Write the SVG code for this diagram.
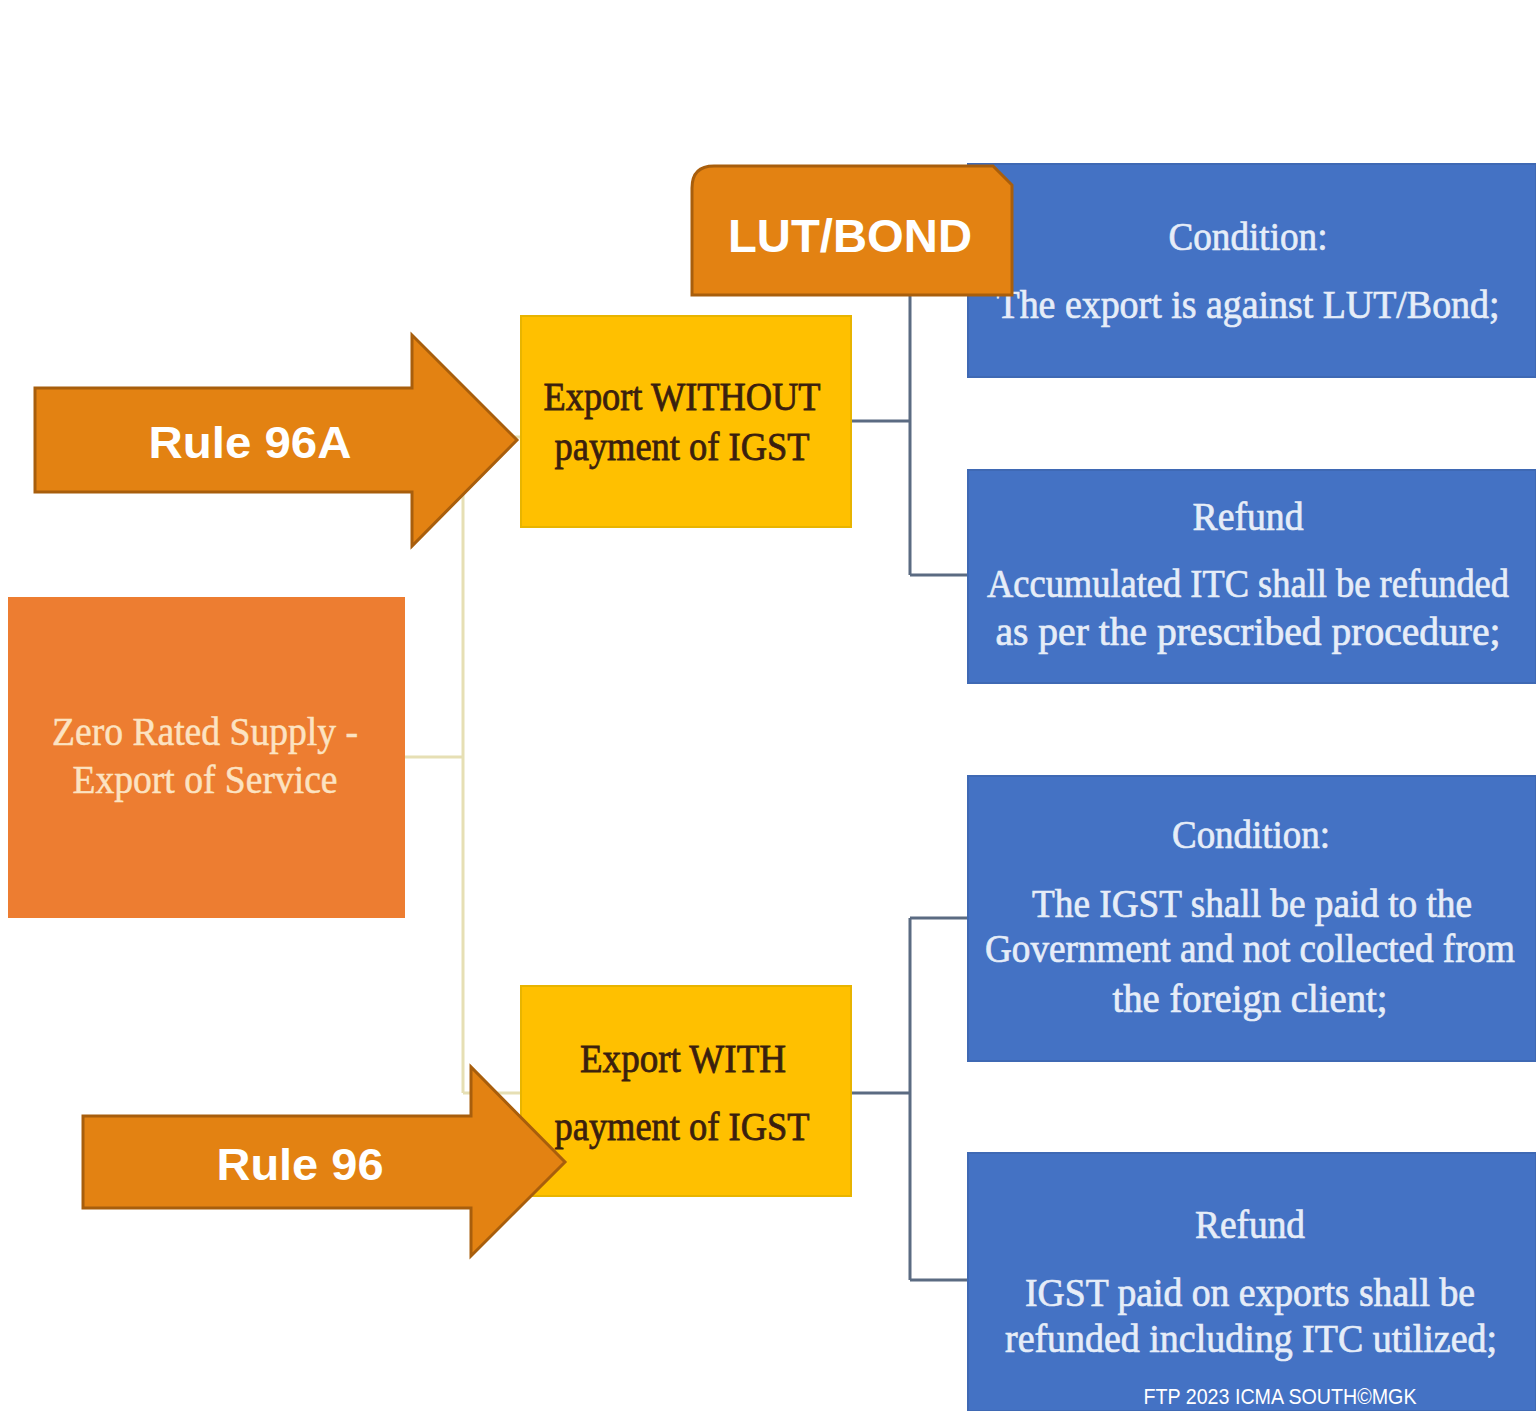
<svg xmlns="http://www.w3.org/2000/svg" width="1536" height="1411" viewBox="0 0 1536 1411">
  <style>
    .serif { font-family: "Liberation Serif", "DejaVu Serif", serif; }
    .sans { font-family: "Liberation Sans", Arial, sans-serif; }
    .blue { fill: #4472C4; stroke: #3F69B4; stroke-width: 2; }
    .blueText { fill: #E6EDF8; stroke: #E6EDF8; stroke-width: 0.7; font-size: 40px; }
    .yellow { fill: #FFC000; stroke: #E8B400; stroke-width: 2; }
    .yellowText { fill: #3B1F0E; stroke: #3B1F0E; stroke-width: 0.8; font-size: 40px; }
    .cream { fill: #FCE3C2; stroke: #FCE3C2; stroke-width: 0.5; font-size: 40px; }
    .arrow { fill: #E38212; stroke: #A85E0C; stroke-width: 3; }
    .bigLabel { fill: #FFFFFF; font-weight: bold; }
    .linkPale { stroke: #E6DFB4; stroke-width: 3; fill: none; }
    .linkDark { stroke: #5B6B82; stroke-width: 3; fill: none; }
  </style>

  <rect width="1536" height="1411" fill="#FFFFFF"/>

  <!-- connectors -->
  <g id="connectors">
    <path class="linkPale" d="M405 757 H463 M463 437 V1093 M463 437 H521 M463 1093 H521"/>
    <path class="linkDark" d="M851 421 H910 M910 270 V575 M910 270 H968 M910 575 H968"/>
    <path class="linkDark" d="M851 1093 H910 M910 918 V1280 M910 918 H968 M910 1280 H968"/>
  </g>

  <!-- root node -->
  <g id="node-zero-rated">
    <rect x="8" y="597" width="397" height="321" fill="#ED7D31"/>
    <text class="serif cream" x="205" y="745" text-anchor="middle" textLength="306" lengthAdjust="spacingAndGlyphs">Zero Rated Supply -</text>
    <text class="serif cream" x="205" y="793" text-anchor="middle" textLength="265" lengthAdjust="spacingAndGlyphs">Export of Service</text>
  </g>

  <!-- branch nodes -->
  <g id="node-without">
    <rect class="yellow" x="521" y="316" width="330" height="211"/>
    <text class="serif yellowText" x="682" y="410" text-anchor="middle" textLength="277" lengthAdjust="spacingAndGlyphs">Export WITHOUT</text>
    <text class="serif yellowText" x="682" y="460" text-anchor="middle" textLength="255" lengthAdjust="spacingAndGlyphs">payment of IGST</text>
  </g>

  <g id="node-with">
    <rect class="yellow" x="521" y="986" width="330" height="210"/>
    <text class="serif yellowText" x="683" y="1072" text-anchor="middle" textLength="206" lengthAdjust="spacingAndGlyphs">Export WITH</text>
    <text class="serif yellowText" x="682" y="1140" text-anchor="middle" textLength="255" lengthAdjust="spacingAndGlyphs">payment of IGST</text>
  </g>

  <!-- detail nodes -->
  <g id="node-condition-lut">
    <rect class="blue" x="968" y="164" width="568" height="213"/>
    <text class="serif blueText" x="1248" y="250" text-anchor="middle" textLength="159" lengthAdjust="spacingAndGlyphs">Condition:</text>
    <text class="serif blueText" x="1248" y="318" font-size="38" text-anchor="middle" textLength="503" lengthAdjust="spacingAndGlyphs">The export is against  LUT/Bond;</text>
  </g>

  <g id="node-refund-itc">
    <rect class="blue" x="968" y="470" width="568" height="213"/>
    <text class="serif blueText" x="1248" y="530" text-anchor="middle" textLength="111" lengthAdjust="spacingAndGlyphs">Refund</text>
    <text class="serif blueText" x="1248" y="597" font-size="34" text-anchor="middle" textLength="522" lengthAdjust="spacingAndGlyphs">Accumulated ITC shall be refunded</text>
    <text class="serif blueText" x="1248" y="645" font-size="38" text-anchor="middle" textLength="505" lengthAdjust="spacingAndGlyphs">as per the prescribed procedure;</text>
  </g>

  <g id="node-condition-igst">
    <rect class="blue" x="968" y="776" width="568" height="285"/>
    <text class="serif blueText" x="1251" y="848" text-anchor="middle" textLength="158" lengthAdjust="spacingAndGlyphs">Condition:</text>
    <text class="serif blueText" x="1252" y="917" text-anchor="middle" textLength="440" lengthAdjust="spacingAndGlyphs">The IGST shall be paid to the</text>
    <text class="serif blueText" x="1250" y="962" font-size="34" text-anchor="middle" textLength="530" lengthAdjust="spacingAndGlyphs">Government and not collected from</text>
    <text class="serif blueText" x="1250" y="1012" text-anchor="middle" textLength="275" lengthAdjust="spacingAndGlyphs">the foreign client;</text>
  </g>

  <g id="node-refund-igst">
    <rect class="blue" x="968" y="1153" width="568" height="258"/>
    <text class="serif blueText" x="1250" y="1238" text-anchor="middle" textLength="110" lengthAdjust="spacingAndGlyphs">Refund</text>
    <text class="serif blueText" x="1250" y="1306" text-anchor="middle" textLength="450" lengthAdjust="spacingAndGlyphs">IGST paid on exports shall be</text>
    <text class="serif blueText" x="1251" y="1352" text-anchor="middle" textLength="492" lengthAdjust="spacingAndGlyphs">refunded including ITC utilized;</text>
    <text class="sans" x="1280" y="1404" font-size="22" fill="#FFFFFF" text-anchor="middle" textLength="273" lengthAdjust="spacingAndGlyphs">FTP 2023 ICMA SOUTH©MGK</text>
  </g>

  <!-- callout tab -->
  <g id="node-lut-bond">
    <path class="arrow" d="M692 295 V188 Q692 166 714 166 H993 L1012 185 V295 Z"/>
    <text class="sans bigLabel" x="850" y="252" font-size="46" text-anchor="middle" textLength="244" lengthAdjust="spacingAndGlyphs">LUT/BOND</text>
  </g>

  <!-- block arrows -->
  <g id="node-rule-96a">
    <path class="arrow" d="M35 388 H412 V335 L517 440 L412 546 V492 H35 Z"/>
    <text class="sans bigLabel" x="250" y="458" font-size="44" text-anchor="middle" textLength="203" lengthAdjust="spacingAndGlyphs">Rule 96A</text>
  </g>

  <g id="node-rule-96">
    <path class="arrow" d="M83 1116 H471 V1067 L565 1162 L471 1256 V1208 H83 Z"/>
    <text class="sans bigLabel" x="300" y="1180" font-size="44" text-anchor="middle" textLength="167" lengthAdjust="spacingAndGlyphs">Rule 96</text>
  </g>
</svg>
